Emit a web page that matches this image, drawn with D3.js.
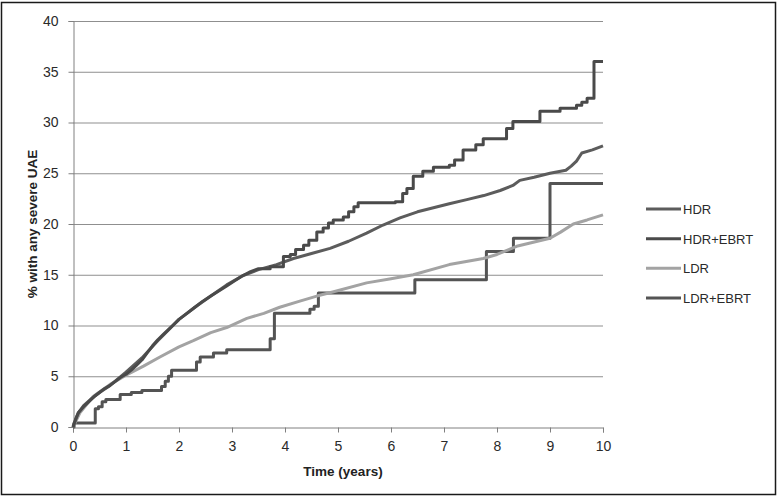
<!DOCTYPE html>
<html><head><meta charset="utf-8">
<script src="https://cdn.jsdelivr.net/npm/d3@7"></script>
<style>body{margin:0;background:#fff}svg{display:block}</style>
</head><body>
<script>
// ---- data ----
const seriesNames = ["HDR", "HDR+EBRT", "LDR", "LDR+EBRT"];
const xTicks = [0,1,2,3,4,5,6,7,8,9,10];
const yTicks = [0,5,10,15,20,25,30,35,40];
const hdrT = [0,0.1,0.2,0.35,0.5,0.7,1.0,1.3,1.6,2.0,2.3,2.6,2.9,3.2,3.5,3.84,4.16,4.5,4.85,5.2,5.54,5.85,6.17,6.5,6.8,7.1,7.43,7.75,8.06,8.3,8.43,8.7,9.0,9.3,9.4,9.5,9.6,9.8,10];
const hdrV = [0,1.4,2.1,2.8,3.4,4.1,5.4,6.8,8.5,10.6,11.8,12.9,14.0,14.9,15.5,16.0,16.6,17.1,17.6,18.3,19.1,19.9,20.6,21.2,21.6,22.0,22.4,22.8,23.3,23.8,24.3,24.6,25.0,25.3,25.7,26.2,27.0,27.3,27.7];
const hdrEbrtT = [0,0.05,0.1,0.2,0.3,0.4,0.5,0.6,0.7,0.8,0.9,1.0,1.1,1.2,1.3,1.4,1.5,1.6,1.7,1.8,1.9,2.0,2.15,2.3,2.45,2.6,2.75,2.9,3.05,3.2,3.35,3.5,3.72,3.97,4.1,4.2,4.35,4.45,4.6,4.72,4.82,4.91,5.1,5.2,5.3,5.38,6.08,6.22,6.3,6.42,6.6,6.8,7.1,7.2,7.36,7.6,7.74,8.18,8.3,8.81,9.19,9.5,9.6,9.7,9.83,10];
const hdrEbrtV = [0,0.8,1.4,2.0,2.5,3.0,3.4,3.8,4.1,4.5,4.9,5.2,5.6,6.1,6.6,7.3,8.0,8.6,9.1,9.6,10.1,10.6,11.2,11.8,12.4,12.9,13.4,13.9,14.4,14.9,15.3,15.6,15.8,16.8,17.0,17.5,17.9,18.4,19.2,19.6,20.1,20.4,20.7,21.2,21.7,22.1,22.2,23.0,23.5,24.7,25.2,25.6,25.8,26.3,27.3,27.8,28.4,29.4,30.1,31.1,31.4,31.7,32.0,32.4,36.0,36.0];
const ldrT = [0,0.13,0.38,0.7,1.0,1.33,1.64,2.0,2.27,2.6,2.9,3.28,3.6,3.9,4.28,4.6,4.9,5.54,6.0,6.42,7.1,7.74,8.0,8.37,9.0,9.2,9.44,9.7,10];
const ldrV = [0,1.4,3.0,4.2,5.1,6.0,6.9,7.9,8.5,9.3,9.8,10.7,11.2,11.8,12.4,12.9,13.3,14.2,14.6,15.0,16.0,16.6,17.0,17.8,18.6,19.2,20.0,20.4,20.9];
const ldrEbrtT = [0,0.02,0.42,0.48,0.55,0.62,0.89,1.1,1.3,1.67,1.74,1.8,1.86,2.33,2.4,2.65,2.9,3.72,3.8,4.47,4.55,4.63,6.45,7.8,8.31,9.0,10];
const ldrEbrtV = [0,0.4,1.8,2.0,2.5,2.7,3.2,3.4,3.6,4.0,4.5,5.0,5.6,6.4,6.9,7.3,7.6,8.7,11.2,11.6,11.9,13.2,14.5,17.3,18.6,24.0,24.0];
const seriesColors = ["#5c5c5c", "#4a4a4a", "#a3a3a3", "#545454"];
const stepFrom = [Infinity, 3.7, Infinity, 0]; // time after which the curve is drawn as steps

const W = 780, H = 498;
const svg = d3.select("body").append("svg").attr("width", W).attr("height", H);
svg.append("rect").attr("x",1.5).attr("y",2.5).attr("width",774).attr("height",492)
  .attr("fill","#fff").attr("stroke","#1a1a1a").attr("stroke-width",1.5);

const x = d3.scaleLinear().domain([0,10]).range([73,603]);
const y = d3.scaleLinear().domain([0,40]).range([427,21]);
const font = "'Liberation Sans', Arial, sans-serif";

// gridlines
svg.append("g").selectAll("line").data(yTicks.filter(d=>d>0)).join("line")
  .attr("x1",x(0)).attr("x2",x(10)).attr("y1",d=>y(d)+0.5).attr("y2",d=>y(d)+0.5)
  .attr("stroke","#8f8f8f").attr("stroke-width",1);

// axes
const yAxis = svg.append("g").attr("transform",`translate(${x(0)+0.5},0)`)
  .call(d3.axisLeft(y).tickValues(yTicks).tickSize(5).tickPadding(10));
const xAxis = svg.append("g").attr("transform",`translate(0,${y(0)+0.5})`)
  .call(d3.axisBottom(x).tickValues(xTicks).tickSize(5).tickPadding(9));
[yAxis,xAxis].forEach(g=>{
  g.select(".domain").attr("stroke","#808080");
  g.selectAll(".tick line").attr("stroke","#808080");
  g.selectAll(".tick text").attr("fill","#2a2a2a").style("font-family",font).style("font-size","14px");
});

// series: linear where smooth, step-after beyond stepFrom
function pathPoints(ts, vs, from){
  const out = [];
  ts.forEach((t,i)=>{
    out.push([t,vs[i]]);
    if (i < ts.length-1 && ts[i+1] > from && vs[i+1] !== vs[i]) out.push([ts[i+1], vs[i]]);
  });
  return out;
}
const line = d3.line().x(d=>x(d[0])).y(d=>y(d[1]));
const data = [
  {name:seriesNames[0], t:hdrT, v:hdrV, color:seriesColors[0], from:stepFrom[0]},
  {name:seriesNames[1], t:hdrEbrtT, v:hdrEbrtV, color:seriesColors[1], from:stepFrom[1]},
  {name:seriesNames[2], t:ldrT, v:ldrV, color:seriesColors[2], from:stepFrom[2]},
  {name:seriesNames[3], t:ldrEbrtT, v:ldrEbrtV, color:seriesColors[3], from:stepFrom[3]}
];
[3,2,0,1].forEach(i=>{
  const s = data[i];
  svg.append("path").attr("d", line(pathPoints(s.t, s.v, s.from))).attr("fill","none")
    .attr("stroke", s.color).attr("stroke-width",3).attr("stroke-linejoin","round");
});

// axis titles
svg.append("text").attr("x",343).attr("y",476).attr("text-anchor","middle")
  .style("font-family",font).style("font-size","13.5px").style("font-weight","bold")
  .attr("fill","#222").text("Time (years)");
svg.append("text").attr("transform","translate(37,224) rotate(-90)").attr("text-anchor","middle")
  .style("font-family",font).style("font-size","13.5px").style("font-weight","bold")
  .attr("fill","#222").text("% with any severe UAE");

// legend
const leg = svg.append("g");
const legY = d3.scalePoint().domain(seriesNames).range([209,298]);
data.forEach(s=>{
  leg.append("line").attr("x1",646).attr("x2",681).attr("y1",legY(s.name)).attr("y2",legY(s.name))
    .attr("stroke",s.color).attr("stroke-width",3);
  leg.append("text").attr("x",683).attr("y",legY(s.name)+5)
    .style("font-family",font).style("font-size","13px").attr("fill","#2a2a2a").text(s.name);
});
</script>
</body></html>
